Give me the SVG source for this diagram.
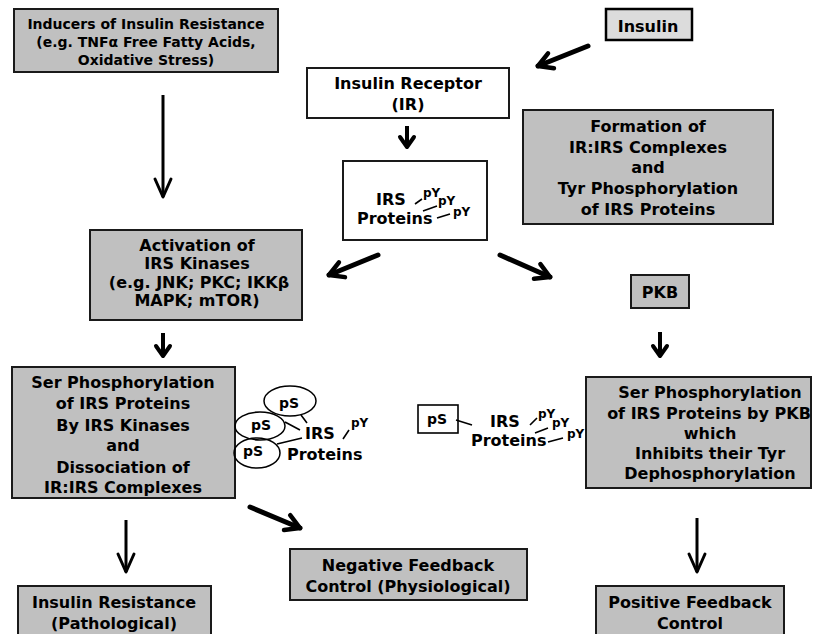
<svg xmlns="http://www.w3.org/2000/svg" width="813" height="634" viewBox="0 0 813 634">
<style>
text{font-family:"DejaVu Sans","Verdana","Liberation Sans",sans-serif;font-weight:bold;fill:#000}
.t{font-size:16px;text-anchor:middle}
.s{font-size:14px;text-anchor:middle}
.py{font-size:12px}
.ps{font-size:14px;text-anchor:middle}
.g{fill:#c0c0c0;stroke:#1a1a1a;stroke-width:2}
.w{fill:#fff;stroke:#1a1a1a;stroke-width:2}
.bond{stroke:#000;stroke-width:1.6;fill:none}
.el{fill:none;stroke:#000;stroke-width:1.5}
.ad{stroke:#000;stroke-width:5;fill:none;stroke-linecap:round}
.av{stroke:#000;stroke-width:3;fill:none}
.as{stroke:#000;stroke-width:4;fill:none}
</style>
<defs>
<marker id="hA" viewBox="-20 -10 22 20" refX="0" refY="0" markerWidth="22" markerHeight="20" markerUnits="userSpaceOnUse" orient="auto" overflow="visible">
<path d="M-14,-8 L0,0 L-14,8" fill="none" stroke="#000" stroke-width="4.5" stroke-linejoin="round" stroke-linecap="round"/>
</marker>
<marker id="hV" viewBox="-20 -10 22 20" refX="0" refY="0" markerWidth="22" markerHeight="20" markerUnits="userSpaceOnUse" orient="auto" overflow="visible">
<path d="M-18,-8 L0,0 L-18,8" fill="none" stroke="#000" stroke-width="3" stroke-linejoin="round" stroke-linecap="round"/>
</marker>
<marker id="hS" viewBox="-20 -10 22 20" refX="0" refY="0" markerWidth="22" markerHeight="20" markerUnits="userSpaceOnUse" orient="auto" overflow="visible">
<path d="M-10,-7 L0,0 L-10,7" fill="none" stroke="#000" stroke-width="4" stroke-linejoin="round" stroke-linecap="round"/>
</marker>
</defs>
<rect width="813" height="634" fill="#fff"/>

<g id="inducers">
<rect class="g" x="14" y="9" width="264" height="63"/>
<text class="s" x="146" y="29">Inducers of Insulin Resistance</text>
<text class="s" x="146" y="47">(e.g. TNFα Free Fatty Acids,</text>
<text class="s" x="146" y="65">Oxidative Stress)</text>
</g>

<g id="insulin">
<rect x="606" y="9" width="86" height="31" fill="#dcdcdc" stroke="#000" stroke-width="2.5"/>
<text class="t" x="648" y="32">Insulin</text>
</g>

<g id="receptor">
<rect class="w" x="307" y="68" width="202" height="50"/>
<text class="t" x="408" y="89">Insulin Receptor</text>
<text class="t" x="408" y="110">(IR)</text>
</g>

<g id="irs">
<rect class="w" x="343" y="161" width="144" height="79"/>
<text class="t" x="376" y="205" text-anchor="start" style="text-anchor:start">IRS</text>
<text class="t" x="357" y="224" style="text-anchor:start">Proteins</text>
<text class="py" x="423" y="197">pY</text>
<text class="py" x="438" y="205">pY</text>
<text class="py" x="453" y="216">pY</text>
<path class="bond" d="M415,204 L422,199 M423,211 L437,206 M437,218 L450,214"/>
</g>

<g id="formation">
<rect class="g" x="523" y="110" width="250" height="114"/>
<text class="t" x="648" y="132">Formation of</text>
<text class="t" x="648" y="153">IR:IRS Complexes</text>
<text class="t" x="648" y="173">and</text>
<text class="t" x="648" y="194">Tyr Phosphorylation</text>
<text class="t" x="648" y="215">of IRS Proteins</text>
</g>

<g id="activation">
<rect class="g" x="90" y="230" width="212" height="90"/>
<text class="t" x="197" y="251">Activation of</text>
<text class="t" x="197" y="269">IRS Kinases</text>
<text class="t" x="199" y="288">(e.g. JNK; PKC; IKKβ</text>
<text class="t" x="197" y="306">MAPK; mTOR)</text>
</g>

<g id="pkb">
<rect class="g" x="631" y="275" width="58" height="33"/>
<text class="t" x="660" y="298">PKB</text>
</g>

<g id="ser-left">
<rect class="g" x="12" y="367" width="223" height="131"/>
<text class="t" x="123" y="388">Ser Phosphorylation</text>
<text class="t" x="123" y="409">of IRS Proteins</text>
<text class="t" x="123" y="431">By IRS Kinases</text>
<text class="t" x="123" y="451">and</text>
<text class="t" x="123" y="473">Dissociation of</text>
<text class="t" x="123" y="493">IR:IRS Complexes</text>
</g>

<g id="irs-left">
<ellipse class="el" cx="290" cy="401" rx="26" ry="15"/>
<ellipse class="el" cx="260" cy="426" rx="25" ry="14"/>
<ellipse class="el" cx="257" cy="453" rx="23" ry="15"/>
<text class="ps" x="289" y="408">pS</text>
<text class="ps" x="261" y="430">pS</text>
<text class="ps" x="253" y="456">pS</text>
<path class="bond" d="M301,415 L307,423 M285,422 L300,430 M277,444 L302,438 M343,439 L349,430"/>
<text class="t" x="305" y="439" style="text-anchor:start">IRS</text>
<text class="t" x="287" y="460" style="text-anchor:start">Proteins</text>
<text class="py" x="351" y="427">pY</text>
</g>

<g id="irs-right">
<rect x="418" y="405" width="40" height="28" fill="#fff" stroke="#000" stroke-width="1.6"/>
<text class="ps" x="437" y="424">pS</text>
<path class="bond" d="M456,420 L472,425 M530,425 L537,418 M535,433 L548,428 M548,442 L563,438"/>
<text class="t" x="490" y="427" style="text-anchor:start">IRS</text>
<text class="t" x="471" y="446" style="text-anchor:start">Proteins</text>
<text class="py" x="538" y="418">pY</text>
<text class="py" x="552" y="427">pY</text>
<text class="py" x="567" y="438">pY</text>
</g>

<g id="ser-right">
<rect class="g" x="586" y="377" width="225" height="111"/>
<text class="t" x="710" y="398">Ser Phosphorylation</text>
<text class="t" x="709" y="419">of IRS Proteins by PKB</text>
<text class="t" x="710" y="439">which</text>
<text class="t" x="710" y="459">Inhibits their Tyr</text>
<text class="t" x="710" y="479">Dephosphorylation</text>
</g>

<g id="resistance">
<rect class="g" x="18" y="586" width="193" height="52"/>
<text class="t" x="114" y="608">Insulin Resistance</text>
<text class="t" x="114" y="629">(Pathological)</text>
</g>

<g id="negative">
<rect class="g" x="290" y="549" width="237" height="51"/>
<text class="t" x="408" y="571">Negative Feedback</text>
<text class="t" x="408" y="592">Control (Physiological)</text>
</g>

<g id="positive">
<rect class="g" x="596" y="586" width="188" height="52"/>
<text class="t" x="690" y="608">Positive Feedback</text>
<text class="t" x="690" y="629">Control</text>
</g>

<g id="connectors">
<line class="ad" x1="588" y1="46" x2="538" y2="66" marker-end="url(#hA)"/>
<line class="as" x1="407" y1="126" x2="407" y2="147" marker-end="url(#hS)"/>
<line class="av" x1="163" y1="95" x2="163" y2="197" marker-end="url(#hV)"/>
<line class="ad" x1="378" y1="255" x2="329" y2="275" marker-end="url(#hA)"/>
<line class="ad" x1="500" y1="255" x2="550" y2="277" marker-end="url(#hA)"/>
<line class="as" x1="163" y1="333" x2="163" y2="356" marker-end="url(#hS)"/>
<line class="as" x1="660" y1="332" x2="660" y2="356" marker-end="url(#hS)"/>
<line class="av" x1="126" y1="520" x2="126" y2="572" marker-end="url(#hV)"/>
<line class="ad" x1="250" y1="507" x2="300" y2="528" marker-end="url(#hA)"/>
<line class="av" x1="697" y1="518" x2="697" y2="572" marker-end="url(#hV)"/>
</g>
</svg>
